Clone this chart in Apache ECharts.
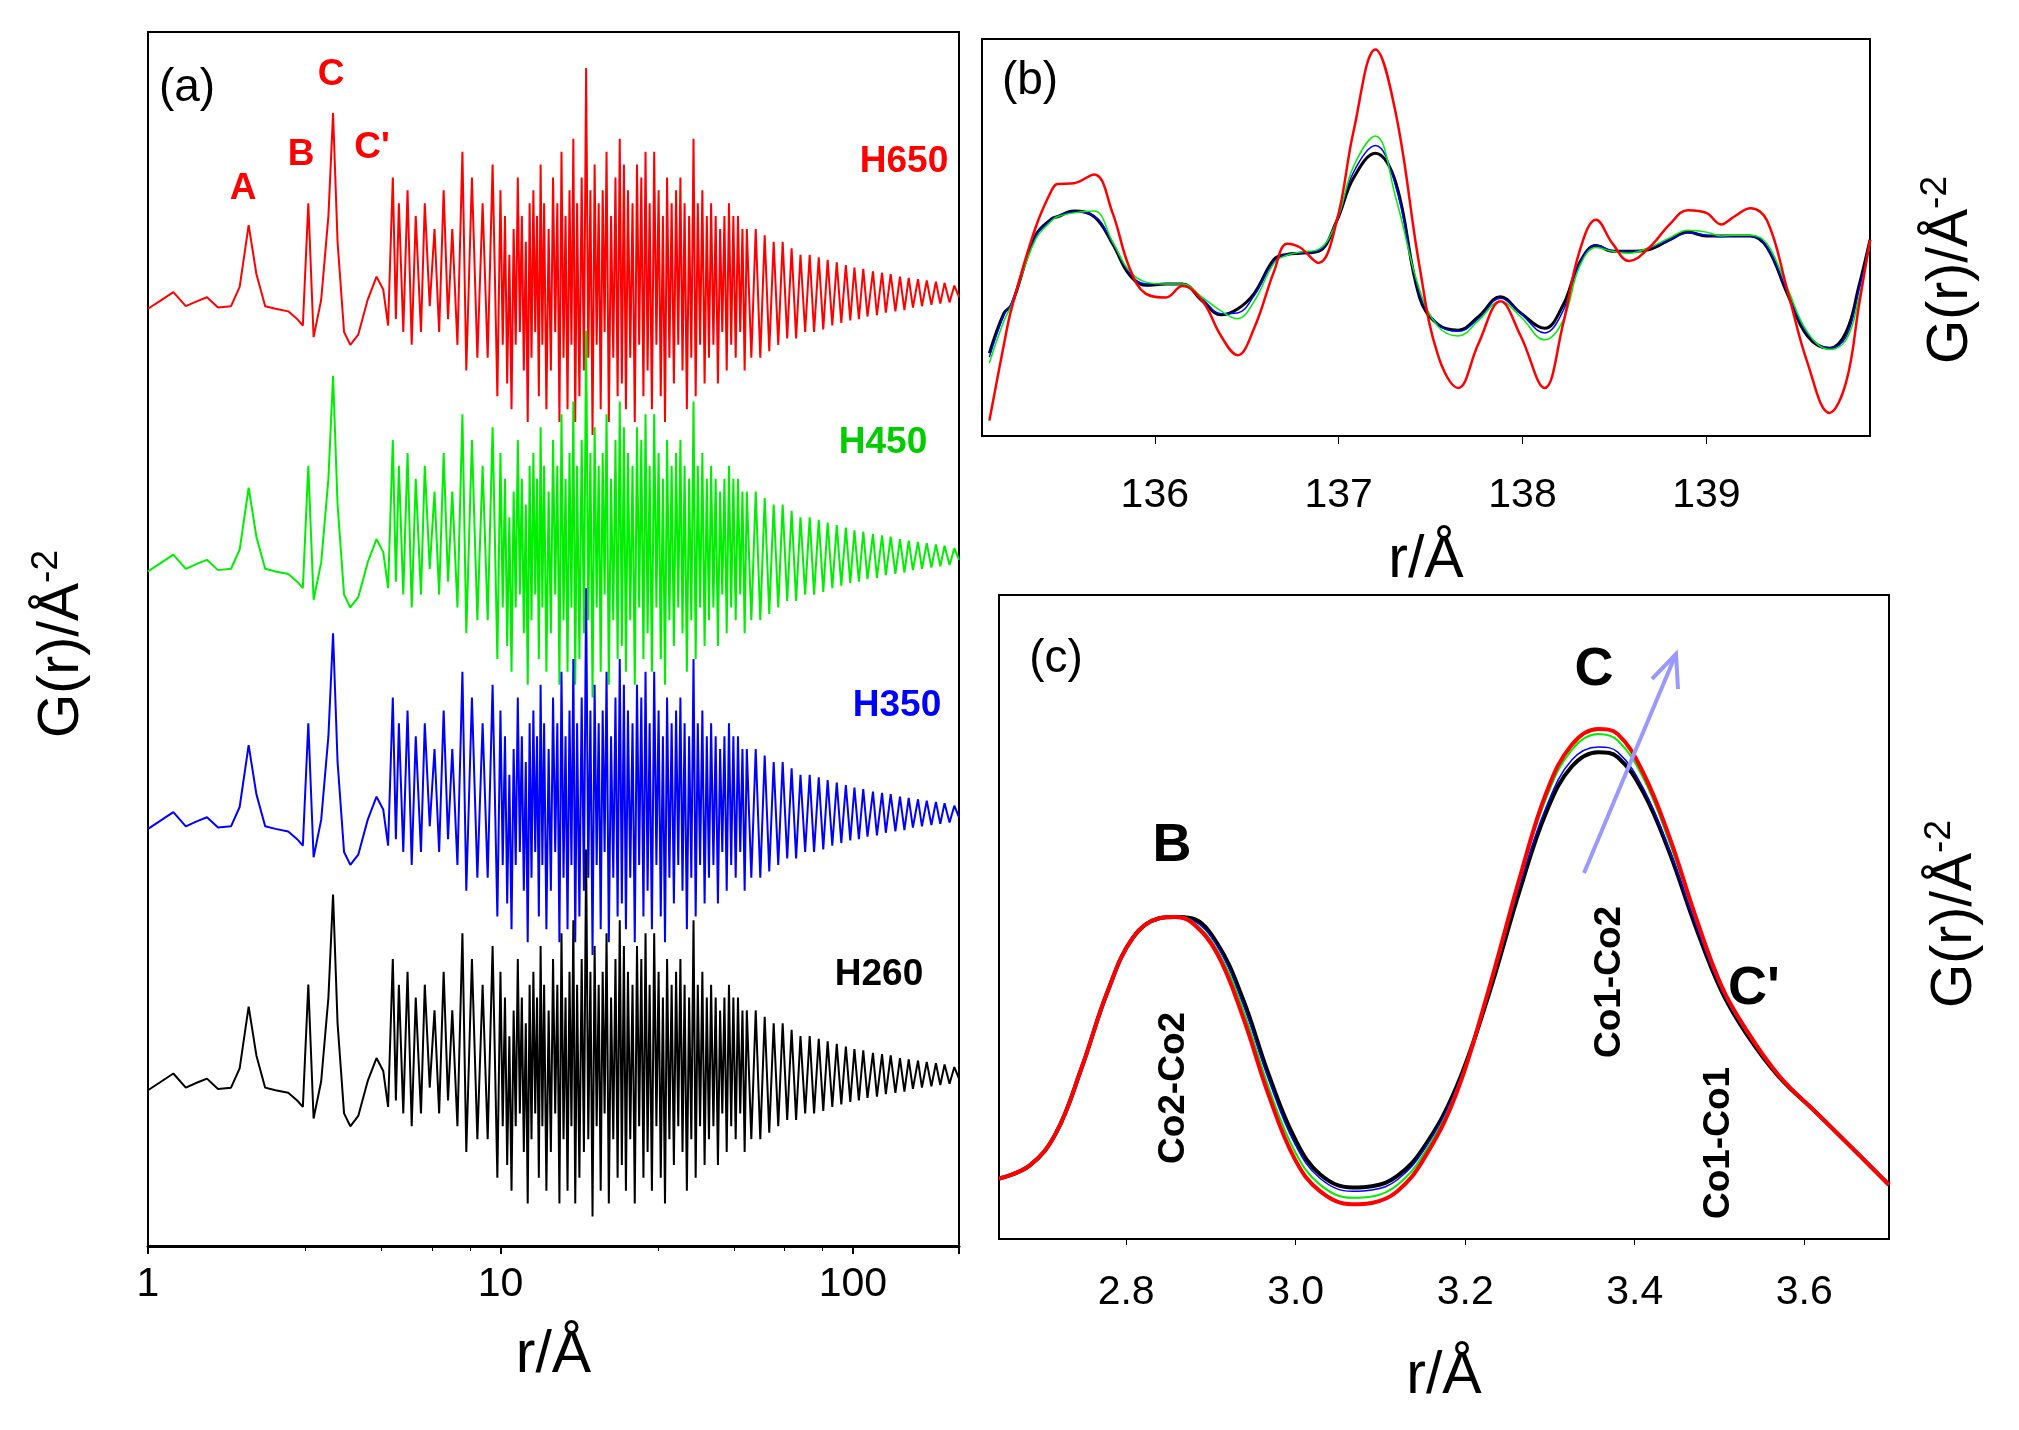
<!DOCTYPE html>
<html>
<head>
<meta charset="utf-8">
<script src="https://cdn.jsdelivr.net/npm/echarts@6/dist/echarts.min.js"></script>
<style>
  html, body { margin: 0; padding: 0; background: #fff; }
  #chart { width: 2019px; height: 1430px; }
</style>
</head>
<body>
<div id="chart"></div>
<script>
// ---------- data ----------
// panel (a): r in Å (log axis), G(r) relative to each curve's baseline
var rA = [1.00, 1.08, 1.18, 1.28, 1.38, 1.47, 1.58, 1.72, 1.82, 1.93, 2.03, 2.15, 2.3, 2.5, 2.65, 2.75, 2.85, 2.95, 3.1, 3.25,
  3.35, 3.45, 3.6, 3.75, 3.95, 4.2, 4.45, 4.65, 4.8, 4.95, 5.05, 5.15, 5.3, 5.45, 5.6, 5.75, 5.95, 6.1, 6.3, 6.5,
  6.7, 6.9, 7.1, 7.3, 7.55, 7.8, 8.0, 8.3, 8.6, 8.9, 9.2, 9.5, 9.8,
  10, 10.15, 10.3, 10.45, 10.6, 10.75, 10.9, 11.05, 11.2, 11.35, 11.5, 11.65, 11.8, 11.95, 12.1, 12.25, 12.4, 12.55, 12.7, 12.85,
  13, 13.15, 13.3, 13.5, 13.7, 13.9, 14.1, 14.3, 14.5, 14.7, 14.9, 15.1, 15.3, 15.5, 15.7, 15.9, 16.1, 16.3, 16.5, 16.75,
  17, 17.25, 17.5, 17.75, 18, 18.25, 18.5, 18.75, 19, 19.25, 19.5, 19.75, 20, 20.3, 20.6, 20.9, 21.2, 21.5, 21.8, 22.1,
  22.4, 22.7, 23, 23.35, 23.7, 24.05, 24.4, 24.75, 25.1, 25.45, 25.8, 26.15, 26.5, 26.9, 27.3, 27.7, 28.1, 28.5, 28.9, 29.3,
  29.7, 30.15, 30.6, 31.05, 31.5, 31.95, 32.4, 32.85, 33.3, 33.8, 34.3, 34.8, 35.3, 35.8, 36.3, 36.85, 37.4, 37.95, 38.5, 39.05,
  39.6, 40.2, 40.8, 41.4, 42, 42.6, 43.2, 43.85, 44.5, 45.15, 45.8, 46.5, 47.2, 47.9, 48.6, 49.3, 50,
  51.5, 53, 54.6, 56.2, 57.9, 59.6, 61.4, 63.2, 65.1, 67, 69, 71, 73.2, 75.4, 77.6, 80, 82.4, 84.8, 87.4, 90,
  92.7, 95.5, 98.3, 101, 104, 107, 110, 114, 117, 121, 124, 128, 132, 136, 140, 144, 148, 153, 157, 162,
  167, 172, 177, 182, 188, 194, 200];
var gA = [-1.2, -0.6, 0.1, -1.0, -0.6, -0.3, -1.1, -1.0, 0.5, 5.3, 1.5, -1.0, -1.2, -1.4, -2.0, -2.5, 7.0, -3.4, -0.5, 6,
  14, 4, -3, -4, -3.2, -0.5, 1.3, 0.3, -2.5, 9, -2, 7, -3, 8, -4, 6, -3, 7, -1, 5,
  -3, 8, -2, 5, -4, 11, -6, 9, -5, 7, -5, 10, -8,
  8, -4, 6, -7, 3, -9, 5, -4, 9, -3, 6, -6, 4, -10, 7, -5, 8, -3, 6, -8,
  10, -4, 7, -9, 5, -6, 9, -3, 7, -10, 11, -5, 6, -9, 8, -4, 12, -10, 7, -8,
  9, -6, 17.5, -5, 8, -11, 10, -4, 7, -9, 8, -3, 11, -10, 6, -5, 9, -8, 12, -7,
  10, -9, 8, -5, 7, -10, 10, -4, 9, -8, 11, -6, 7, -9, 11, -4, 8, -8, 6, -10,
  9, -5, 7, -7, 8, -4, 9, -6, 7, -9, 6, -5, 12, -8, 7, -4, 8, -7, 6, -5,
  7, -4, 6, -7, 5, -3, 6, -6, 7, -4, 6, -5, 6, -3, 5, -6, 5,
  -5, 5, -5, 4.5, -4.5, 4, -4, 4, -3.5, 3.5, -3.5, 3, -3, 3, -3, 2.8, -2.8, 2.6, -2.5, 2.4,
  -2.3, 2.2, -2.1, 2, -2, 1.9, -1.8, 1.7, -1.7, 1.6, -1.5, 1.5, -1.4, 1.3, -1.3, 1.2, -1.1, 1.1, -1, 1,
  -0.9, 0.9, -0.8, 0.8, -0.7, 0.6, -0.3];
var namesA = ['H650', 'H450', 'H350', 'H260'];
var offsetsA = [74, 53.6, 33.6, 13.3];

// panel (b): high-r detail
var rB = [135.10, 135.18, 135.22, 135.35, 135.44, 135.47, 135.56, 135.67, 135.77, 135.86, 135.95, 136.06, 136.15, 136.26, 136.36,
  136.45, 136.54, 136.65, 136.72, 136.79, 136.89, 136.99, 137.08, 137.20, 137.31, 137.44, 137.54, 137.65, 137.76, 137.88,
  137.99, 138.12, 138.22, 138.31, 138.40, 138.49, 138.58, 138.69, 138.80, 138.90, 139.00, 139.08, 139.15, 139.24, 139.33,
  139.44, 139.55, 139.67, 139.76, 139.83, 139.89];
var redB = [40, 240, 330, 540, 640, 655, 657, 680, 580, 440, 370, 360, 390, 350, 260,
  210, 280, 430, 500, 490, 450, 560, 790, 1005, 840, 440, 210, 125, 240, 350,
  260, 125, 290, 480, 562, 500, 455, 490, 550, 587, 580, 550, 570, 592, 560,
  380, 190, 60, 140, 340, 510];
var greenB = [190, 300, 340, 510, 560, 570, 580, 585, 505, 430, 400, 395, 395, 360, 325,
  305, 350, 450, 470, 478, 485, 560, 700, 780, 620, 380, 285, 260, 300, 350,
  310, 250, 300, 440, 490, 480, 475, 490, 515, 535, 530, 520, 522, 522, 500,
  385, 270, 225, 250, 360, 500];
var blueB = [205, 315, 345, 518, 563, 572, 582, 572, 502, 425, 395, 395, 395, 355, 318,
  320, 365, 455, 472, 476, 482, 560, 685, 755, 650, 370, 290, 272, 305, 358,
  318, 268, 325, 448, 495, 482, 478, 488, 510, 528, 522, 518, 520, 520, 492,
  375, 265, 228, 258, 380, 505];
var blackB = [215, 320, 340, 520, 565, 570, 585, 570, 500, 420, 392, 395, 395, 350, 315,
  330, 370, 460, 472, 475, 480, 560, 670, 735, 660, 360, 290, 275, 310, 362,
  320, 280, 340, 450, 495, 480, 480, 485, 510, 530, 520, 520, 520, 520, 490,
  370, 260, 228, 270, 390, 510];

// panel (c): B / C peak region
var rC = [2.650, 2.686, 2.717, 2.747, 2.778, 2.808, 2.839, 2.857, 2.877, 2.907, 2.938, 2.968, 2.999, 3.029, 3.067,
  3.090, 3.120, 3.151, 3.189, 3.227, 3.265, 3.296, 3.326, 3.357, 3.380, 3.410, 3.441, 3.471, 3.502, 3.532,
  3.570, 3.616, 3.662, 3.700];
var redC = [47, 57, 82, 132, 192, 234, 249, 250, 246, 222, 172, 112, 62, 37, 27,
  28, 37, 62, 112, 192, 282, 347, 384, 396, 392, 362, 312, 252, 197, 162,
  127, 97, 67, 42];
var greenC = [47, 57, 82, 132, 192, 234, 249, 250, 247, 225, 178, 118, 68, 42, 32,
  33, 42, 66, 114, 192, 280, 343, 380, 392, 387, 358, 308, 250, 196, 161,
  127, 97, 67, 42];
var blueC = [47, 57, 82, 132, 192, 234, 249, 250, 248, 228, 182, 124, 74, 47, 37,
  38, 46, 69, 116, 190, 276, 336, 372, 382, 378, 350, 302, 246, 194, 160,
  127, 97, 67, 42];
var blackC = [47, 57, 82, 132, 192, 234, 249, 250, 249, 230, 186, 128, 78, 50, 40,
  41, 49, 71, 117, 188, 272, 332, 367, 378, 374, 347, 300, 244, 193, 159,
  126, 97, 67, 42];

var ticksB = [136, 137, 138, 139];
var ticksC = [2.8, 3.0, 3.2, 3.4, 3.6];

// ---------- layout helpers (reference measured at 1568 px wide) ----------
var S = 2019 / 1568;
function px(v) { return Math.round(v * S); }
var FONT = '"Liberation Sans", Arial, sans-serif';
var colorsA = ['#ff0000', '#00ee00', '#0000ff', '#000000'];

function zip(xs, ys, off) {
  return xs.map(function (x, i) { return [x, ys[i] + (off || 0)]; });
}

function gridBox(l, t, r, b) {
  return { left: px(l), top: px(t), width: px(r - l), height: px(b - t),
    show: true, borderColor: '#000', borderWidth: 2, containLabel: false };
}

var tickLabel = { color: '#000', fontSize: px(32), fontFamily: FONT, margin: px(14) };
var titleStyle = { fontSize: px(46), fontFamily: FONT, color: '#000' };

function txt(x, y, text, size, color, bold, rot, align) {
  return {
    type: 'text', x: px(x), y: px(y), rotation: rot || 0,
    style: { text: text, fontSize: px(size), fill: color || '#000', fontFamily: FONT,
      fontWeight: bold ? 'bold' : 'normal', align: align || 'center', verticalAlign: 'middle' },
    z: 100
  };
}

function yTitle(x, y) {
  return {
    type: 'text', x: px(x), y: px(y), rotation: Math.PI / 2,
    style: {
      text: '{a|G(r)/Å}{b|-2}', fill: '#000', align: 'center', verticalAlign: 'middle',
      rich: {
        a: { fontSize: px(44), fontFamily: FONT },
        b: { fontSize: px(29), fontFamily: FONT, padding: [0, 0, px(24), 0] }
      }
    },
    z: 100
  };
}

// ---------- series ----------
var series = [];
namesA.forEach(function (n, i) {
  series.push({ name: n, type: 'line', xAxisIndex: 0, yAxisIndex: 0, showSymbol: false,
    data: zip(rA, gA, offsetsA[i]), lineStyle: { color: colorsA[i], width: 2 } });
});
[['blackB', blackB, '#000', 3], ['blueB', blueB, '#0000ff', 1.5], ['greenB', greenB, '#00ee00', 1.5], ['redB', redB, '#ff0000', 2.5]]
  .forEach(function (s) {
    series.push({ name: s[0], type: 'line', xAxisIndex: 1, yAxisIndex: 1, showSymbol: false, smooth: 0.4,
      data: zip(rB, s[1]), lineStyle: { color: s[2], width: s[3] } });
  });
[['blackC', blackC, '#000', 4], ['blueC', blueC, '#0000ff', 1.5], ['greenC', greenC, '#00ee00', 2], ['redC', redC, '#ff0000', 4]]
  .forEach(function (s) {
    series.push({ name: s[0], type: 'line', xAxisIndex: 2, yAxisIndex: 2, showSymbol: false, smooth: 0.4,
      data: zip(rC, s[1]), lineStyle: { color: s[2], width: s[3] } });
  });

var chart = echarts.init(document.getElementById('chart'));
chart.setOption({
  backgroundColor: '#fff',
  animation: false,
  grid: [gridBox(115, 25, 745, 968), gridBox(763, 30, 1453, 338), gridBox(776, 462, 1467, 962)],
  xAxis: [
    { type: 'log', gridIndex: 0, min: 1, max: 200, logBase: 10,
      axisLine: { lineStyle: { color: '#000', width: 3 } },
      axisTick: { show: true, length: 8, lineStyle: { color: '#000', width: 2 } },
      minorTick: { show: true, length: 5, lineStyle: { color: '#000' } },
      axisLabel: Object.assign({}, tickLabel, { formatter: function (v) { return v > 150 ? '' : String(v); } }),
      splitLine: { show: false },
      name: 'r/Å', nameLocation: 'middle', nameGap: px(62), nameTextStyle: titleStyle },
    { type: 'value', gridIndex: 1, min: 135.06, max: 139.89,
      axisLine: { lineStyle: { color: '#000', width: 2 } },
      axisTick: { show: true, length: 8, customValues: ticksB, lineStyle: { color: '#000' } },
      axisLabel: Object.assign({}, tickLabel, { customValues: ticksB, margin: px(30) }),
      splitLine: { show: false },
      name: 'r/Å', nameLocation: 'middle', nameGap: px(74), nameTextStyle: titleStyle },
    { type: 'value', gridIndex: 2, min: 2.65, max: 3.70,
      axisLine: { lineStyle: { color: '#000', width: 2 } },
      axisTick: { show: true, length: 6, customValues: ticksC, lineStyle: { color: '#000' } },
      axisLabel: Object.assign({}, tickLabel, { customValues: ticksC, margin: px(26),
        formatter: function (v) { return v.toFixed(1); } }),
      splitLine: { show: false },
      name: 'r/Å', nameLocation: 'middle', nameGap: px(84), nameTextStyle: titleStyle }
  ],
  yAxis: [
    { type: 'value', gridIndex: 0, min: 0, max: 94.3, axisLine: { show: true, lineStyle: { color: '#000', width: 2 } },
      axisTick: { show: false }, axisLabel: { show: false }, splitLine: { show: false } },
    { type: 'value', gridIndex: 1, min: 0, max: 1032, axisLine: { show: false },
      axisTick: { show: false }, axisLabel: { show: false }, splitLine: { show: false } },
    { type: 'value', gridIndex: 2, min: 0, max: 500, axisLine: { show: false },
      axisTick: { show: false }, axisLabel: { show: false }, splitLine: { show: false } }
  ],
  series: series,
  graphic: [
    yTitle(48, 500), yTitle(1515, 210), yTitle(1518, 710),
    txt(145, 68, '(a)', 36), txt(800, 63, '(b)', 36), txt(820, 512, '(c)', 36),
    txt(189, 147, 'A', 29, '#ff0000', true), txt(234, 120, 'B', 29, '#ff0000', true),
    txt(257, 58, 'C', 29, '#ff0000', true), txt(289, 115, "C'", 29, '#ff0000', true),
    txt(702, 126, 'H650', 29, '#ff0000', true), txt(686, 344, 'H450', 29, '#00cc00', true),
    txt(697, 548, 'H350', 29, '#0000ff', true), txt(683, 757, 'H260', 29, '#000', true),
    txt(910, 657, 'B', 42, '#000', true), txt(1238, 520, 'C', 42, '#000', true),
    txt(1362, 768, "C'", 42, '#000', true),
    txt(912, 845, 'Co2-Co2', 29, '#000', true, Math.PI / 2),
    txt(1250, 763, 'Co1-Co2', 29, '#000', true, Math.PI / 2),
    txt(1335, 888, 'Co1-Co1', 29, '#000', true, Math.PI / 2),
    { type: 'line', shape: { x1: px(1230), y1: px(678), x2: px(1302), y2: px(508) },
      style: { stroke: '#9999ff', lineWidth: 4 }, z: 90 },
    { type: 'polyline', shape: { points: [[px(1283), px(527)], [px(1302), px(508)], [px(1303), px(535)]] },
      style: { stroke: '#9999ff', lineWidth: 4, fill: null }, z: 90 }
  ]
});
</script>
</body>
</html>
